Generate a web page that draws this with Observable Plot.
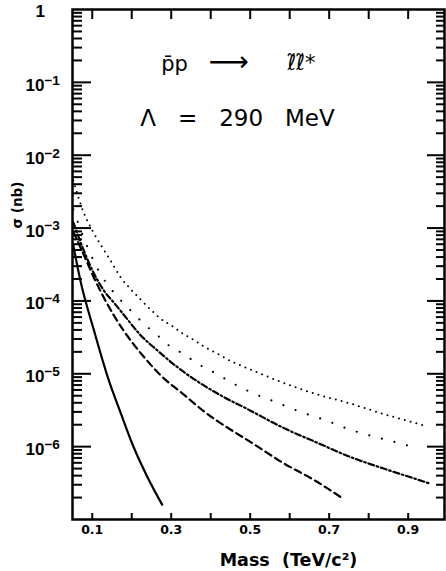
<!DOCTYPE html>
<html><head><meta charset="utf-8">
<script src="https://cdn.jsdelivr.net/npm/d3@7"></script>
<script src="https://cdn.jsdelivr.net/npm/@observablehq/plot@0.6"></script>
<style>body{margin:0;background:#fff}</style>
</head><body><div id="chart"></div>
<script>
// ---- data (mass in TeV/c^2, sigma in nb) ----
const massSolid  = [0.052, 0.070, 0.104, 0.142, 0.172, 0.205, 0.239, 0.277];
const sigmaSolid = [5.8e-4, 1.9e-4, 4.0e-5, 8.1e-6, 2.9e-6, 9.8e-7, 3.9e-7, 1.6e-7];

const massDashed  = [0.052, 0.083, 0.104, 0.129, 0.155, 0.189, 0.231, 0.277, 0.328, 0.378, 0.513, 0.585, 0.661, 0.731];
const sigmaDashed = [8.9e-4, 3.8e-4, 2.1e-4, 1.12e-4, 6.3e-5, 3.3e-5, 1.7e-5, 9.1e-6, 5.4e-6, 3.2e-6, 1.05e-6, 5.9e-7, 3.5e-7, 2.0e-7];

const massDashDot  = [0.052, 0.075, 0.104, 0.129, 0.159, 0.189, 0.218, 0.269, 0.315, 0.374, 0.433, 0.492, 0.585, 0.670, 0.754, 0.838, 0.906, 0.956];
const sigmaDashDot = [1.2e-3, 5.5e-4, 2.4e-4, 1.4e-4, 8.9e-5, 5.6e-5, 3.6e-5, 2.0e-5, 1.24e-5, 7.4e-6, 4.8e-6, 3.3e-6, 1.8e-6, 1.13e-6, 7.2e-7, 5.0e-7, 3.8e-7, 3.1e-7];

const massSparse  = [0.052, 0.091, 0.113, 0.172, 0.197, 0.222, 0.246, 0.270, 0.296, 0.325, 0.353, 0.381, 0.412, 0.440, 0.471, 0.501, 0.564, 0.627, 0.691, 0.754, 0.788, 0.889, 0.923];
const sigmaSparse = [1.8e-3, 5.0e-4, 2.8e-4, 1.02e-4, 7.4e-5, 5.4e-5, 4.1e-5, 3.2e-5, 2.4e-5, 1.95e-5, 1.55e-5, 1.24e-5, 1.02e-5, 8.3e-6, 6.7e-6, 5.6e-6, 4.1e-6, 3.0e-6, 2.3e-6, 1.7e-6, 1.5e-6, 1.07e-6, 9.5e-7];

const massDense  = [0.052, 0.079, 0.100, 0.125, 0.146, 0.172, 0.201, 0.222, 0.248, 0.273, 0.303, 0.328, 0.353, 0.387, 0.416, 0.450, 0.476, 0.509, 0.568, 0.670, 0.754, 0.838, 0.906, 0.948];
const sigmaDense = [4.5e-3, 1.6e-3, 9.3e-4, 5.5e-4, 3.6e-4, 2.1e-4, 1.38e-4, 1.05e-4, 7.6e-5, 5.7e-5, 4.5e-5, 3.6e-5, 3.0e-5, 2.3e-5, 1.9e-5, 1.5e-5, 1.3e-5, 1.1e-5, 8.1e-6, 5.2e-6, 3.9e-6, 2.8e-6, 2.2e-6, 1.9e-6];

const decades = [1, 1e-1, 1e-2, 1e-3, 1e-4, 1e-5, 1e-6, 1e-7];
const decadeLabels = ["1", "10⁻¹", "10⁻²", "10⁻³", "10⁻⁴", "10⁻⁵", "10⁻⁶", ""];
const xTicks = [0.1, 0.2, 0.3, 0.4, 0.5, 0.6, 0.7, 0.8, 0.9];
const xLabelTicks = [0.1, 0.3, 0.5, 0.7, 0.9];
const xLabel = "Mass\u00A0\u00A0(TeV/c²)";
const yLabel = "σ (nb)";
const titleParts = ["p̄p", "⟶", "ℓ̃ℓ̃*"];
const subtitle = "Λ\u00A0\u00A0\u00A0=\u00A0\u00A0\u00A0290\u00A0\u00A0\u00A0MeV";

// ---- derived tables ----
const rows = (m, s) => m.map((d, i) => ({mass: d, sigma: s[i]}));
const minor = [];
for (const d of decades.slice(1)) for (let k = 2; k <= 9; k++) minor.push(+(k * d).toPrecision(3));
const majors = decades.slice(1, 7);
const labelOf = new Map(decades.map((d, i) => [d, decadeLabels[i]]));

const W = 446, H = 571, ML = 72, MR = 2, MT = 9, MB = 52;
const FW = W - ML - MR, FH = H - MT - MB;

const lineOpts = {x: "mass", y: "sigma", stroke: "black", curve: "monotone-x"};
const blank = () => "";
const tickStyle = {tickFormat: blank, strokeWidth: 2, label: null};

const chart = Plot.plot({
  width: W, height: H,
  marginLeft: ML, marginRight: MR, marginTop: MT, marginBottom: MB,
  x: {domain: [0.05, 0.992]},
  y: {type: "log", domain: [1e-7, 1]},
  style: {fontFamily: "DejaVu Sans", background: "white", color: "black"},
  marks: [
    Plot.line(rows(massSolid, sigmaSolid), {...lineOpts, strokeWidth: 2.2}),
    Plot.line(rows(massDashed, sigmaDashed), {...lineOpts, strokeWidth: 2.2, strokeDasharray: "7,4.5"}),
    Plot.line(rows(massDashDot, sigmaDashDot), {...lineOpts, strokeWidth: 2.2, strokeDasharray: "6,2.8,1.6,2.8"}),
    Plot.line(rows(massSparse, sigmaSparse), {...lineOpts, strokeWidth: 2.2, strokeDasharray: "0,13", strokeLinecap: "round"}),
    Plot.line(rows(massDense, sigmaDense), {...lineOpts, strokeWidth: 2.0, strokeDasharray: "0,6", strokeLinecap: "round"}),

    // y ticks pointing inward: left edge (right-anchored axis shifted left), right edge
    Plot.axisY({anchor: "right", ticks: majors, tickSize: 18, dx: -FW, ...tickStyle}),
    Plot.axisY({anchor: "right", ticks: minor, tickSize: 9, dx: -FW, ...tickStyle}),
    Plot.axisY({anchor: "left", ticks: majors, tickSize: 17, dx: FW, ...tickStyle}),
    Plot.axisY({anchor: "left", ticks: minor, tickSize: 8, dx: FW, ...tickStyle}),
    // y tick labels
    Plot.axisY({anchor: "left", ticks: majors, tickSize: 0, tickPadding: 47, textAnchor: "start",
      tickFormat: d => labelOf.get(d), fontSize: 17, fontWeight: "bold", fontFamily: "Liberation Sans", dy: 3, label: null}),
    Plot.axisY({anchor: "left", ticks: [1], tickSize: 0, tickPadding: 37, textAnchor: "start",
      tickFormat: d => labelOf.get(d), fontSize: 17, fontWeight: "bold", fontFamily: "Liberation Sans", dy: 2, label: null}),

    // x ticks pointing inward: bottom and top
    Plot.axisX({anchor: "top", ticks: xTicks, tickSize: 7, dy: FH, ...tickStyle}),
    Plot.axisX({anchor: "bottom", ticks: xTicks, tickSize: 10, dy: -FH, ...tickStyle}),
    Plot.axisX({anchor: "bottom", ticks: xLabelTicks, tickSize: 0, tickPadding: 6,
      tickFormat: d => d.toFixed(1), fontSize: 12.5, fontWeight: "bold", label: null}),

    // axis titles
    Plot.text([xLabel], {frameAnchor: "bottom", dx: 30, dy: 41, text: d => d, fontSize: 17.5, fontWeight: "bold", lineAnchor: "middle"}),
    Plot.text([yLabel], {frameAnchor: "left", dx: -55, dy: -36, rotate: -90, text: d => d, fontSize: 13.5, fontWeight: "bold", lineAnchor: "middle"}),

    // in-plot annotations
    Plot.text([titleParts[0]], {frameAnchor: "top-left", textAnchor: "middle", dx: 102, dy: 55, text: d => d, fontSize: 21, lineAnchor: "middle"}),
    Plot.text([titleParts[1]], {frameAnchor: "top-left", textAnchor: "middle", dx: 156, dy: 53, text: d => d, fontSize: 28, lineAnchor: "middle"}),
    Plot.text([titleParts[2]], {frameAnchor: "top-left", textAnchor: "middle", dx: 229, dy: 54, text: d => d, fontSize: 21, lineAnchor: "middle"}),
    Plot.text([subtitle], {frameAnchor: "top-left", textAnchor: "middle", dx: 165, dy: 109, text: d => d, fontSize: 23, lineAnchor: "middle"}),

    Plot.frame({strokeWidth: 2.5})
  ]
});
document.getElementById("chart").appendChild(chart);

// render "10⁻n" labels with a proper raised exponent (kept as text)
const supMap = {"⁻": "−", "⁰": "0", "¹": "1", "²": "2", "³": "3", "⁴": "4", "⁵": "5", "⁶": "6", "⁷": "7", "⁸": "8", "⁹": "9"};
chart.querySelectorAll("text").forEach(t => {
  const m = /^10([⁻¹²³⁴⁵⁶⁷⁸⁹⁰]+)$/.exec(t.textContent);
  if (!m) return;
  const exp = [...m[1]].map(c => supMap[c]).join("");
  t.textContent = "10";
  const ts = document.createElementNS("http://www.w3.org/2000/svg", "tspan");
  ts.setAttribute("dy", "-0.45em");
  ts.setAttribute("font-size", "0.8em");
  ts.textContent = exp;
  t.appendChild(ts);
});
</script>
</body></html>
